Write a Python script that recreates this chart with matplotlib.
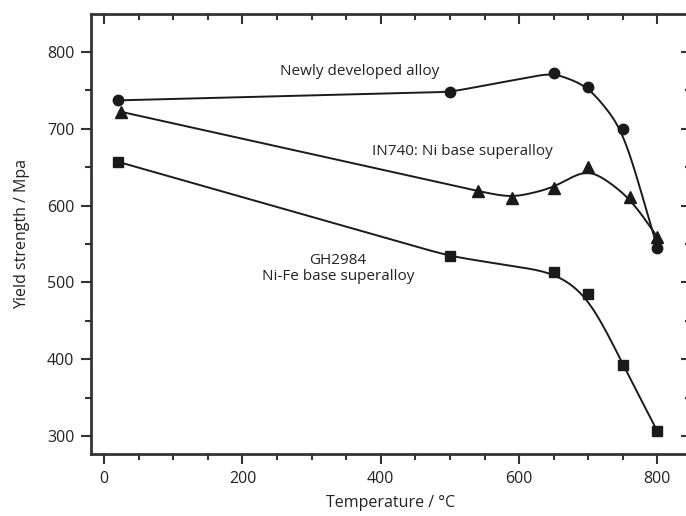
import numpy as np
import matplotlib
matplotlib.use("Agg")
import matplotlib.pyplot as plt
from matplotlib.ticker import MultipleLocator

# yield strength (MPa) vs temperature (degC)
NEW_T = [20, 500, 650, 700, 750, 800]
NEW_Y = [737, 748, 773, 755, 700, 545]

IN740_T = [25, 540, 590, 650, 700, 760, 800]
IN740_Y = [722, 619, 610, 623, 650, 611, 559]

GH_T = [20, 500, 650, 700, 750, 800]
GH_Y = [657, 534, 513, 485, 393, 306]

LINE_COLOR = "#1a1a1a"
AXIS_COLOR = "#333333"
TEXT_COLOR = "#222222"


def smooth_curve(x, y, sigma=22.0, step=1.0):
    """Polyline through the points, rounded at the corners with a gaussian
    kernel (ends extended along their last slope so they stay straight)."""
    x = np.asarray(x, float)
    y = np.asarray(y, float)
    pad = 4 * sigma
    xx = np.arange(x[0] - pad, x[-1] + pad + step, step)
    yy = np.interp(xx, x, y)
    lo = xx < x[0]
    hi = xx > x[-1]
    yy[lo] = y[0] + (xx[lo] - x[0]) * (y[1] - y[0]) / (x[1] - x[0])
    yy[hi] = y[-1] + (xx[hi] - x[-1]) * (y[-1] - y[-2]) / (x[-1] - x[-2])
    k = np.arange(-pad, pad + step, step)
    w = np.exp(-0.5 * (k / sigma) ** 2)
    w /= w.sum()
    ys = np.convolve(yy, w, mode="same")
    keep = (xx >= x[0]) & (xx <= x[-1])
    return xx[keep], ys[keep]


plt.rcParams["font.family"] = ["Open Sans", "DejaVu Sans"]

fig = plt.figure(figsize=(6.86, 5.16), dpi=100)
ax = fig.add_axes([0.1327, 0.1202, 0.874, 0.8527])

for xs, ys, mk, ms, sg in [(NEW_T, NEW_Y, "o", 7.5, 13),
                           (IN740_T, IN740_Y, "^", 8, 16),
                           (GH_T, GH_Y, "s", 6.5, 22)]:
    cx, cy = smooth_curve(xs, ys, sigma=sg)
    ax.plot(cx, cy, color=LINE_COLOR, lw=1.4, zorder=2)
    ax.plot(xs, ys, linestyle="none", marker=mk, ms=ms,
            color=LINE_COLOR, zorder=3)

ax.set_xlim(-19, 848)
ax.set_ylim(276.5, 849.5)

ax.xaxis.set_major_locator(MultipleLocator(200))
ax.xaxis.set_minor_locator(MultipleLocator(50))
ax.yaxis.set_major_locator(MultipleLocator(100))
ax.yaxis.set_minor_locator(MultipleLocator(50))

ax.tick_params(which="both", top=True, right=True, colors=AXIS_COLOR,
               labelcolor=TEXT_COLOR, labelsize=11.5)
ax.tick_params(which="major", length=7, width=1.5, pad=5)
ax.tick_params(which="minor", length=4, width=1.5)
# bottom and left ticks point out, top and right ticks point in
for t in ax.xaxis.get_major_ticks() + ax.xaxis.get_minor_ticks():
    t.tick1line.set_marker(3)
    t.tick2line.set_marker(3)
for t in ax.yaxis.get_major_ticks() + ax.yaxis.get_minor_ticks():
    t.tick1line.set_marker(0)
    t.tick2line.set_marker(0)

for s in ax.spines.values():
    s.set_color(AXIS_COLOR)
    s.set_linewidth(2)
ax.spines["right"].set_visible(False)

ax.set_xlabel("Temperature / \u00b0C", fontsize=11.5, color=TEXT_COLOR, labelpad=6)
ax.set_ylabel("Yield strength / Mpa", fontsize=11.5, color=TEXT_COLOR, labelpad=12)

ax.text(370, 775, "Newly developed alloy", fontsize=11, ha="center", va="center",
        color=TEXT_COLOR)
ax.text(518, 670, "IN740: Ni base superalloy", fontsize=11, ha="center",
        va="center", color=TEXT_COLOR)
ax.text(338, 518, "GH2984\nNi-Fe base superalloy", fontsize=11, ha="center",
        va="center", color=TEXT_COLOR, linespacing=1.1)

fig.savefig("out.png", dpi=100)
